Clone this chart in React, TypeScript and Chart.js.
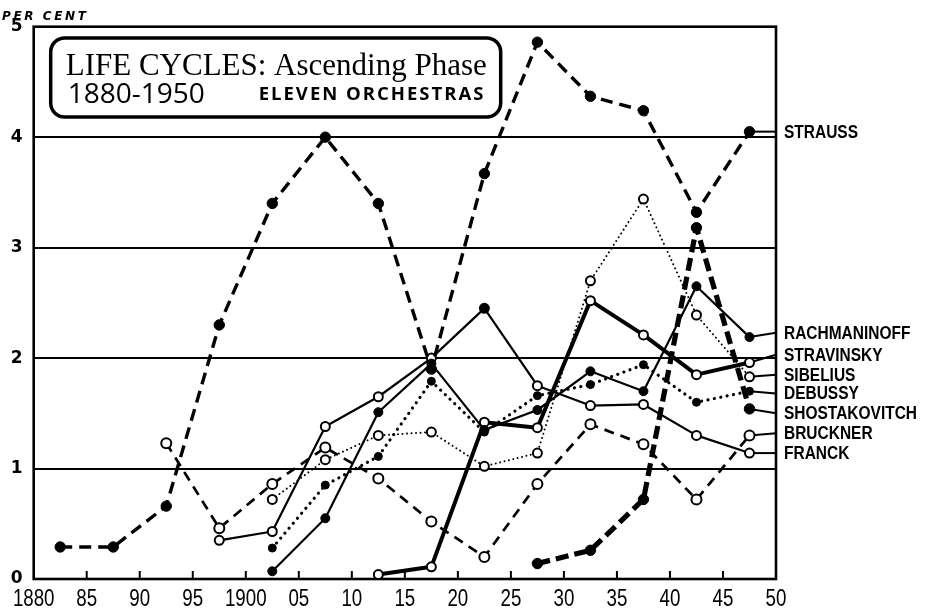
import React, { useEffect, useRef } from "react";
import { Chart, registerables } from "chart.js";

Chart.register(...registerables);

// ---- data -------------------------------------------------------------
const years = [1882.5, 1887.5, 1892.5, 1897.5, 1902.5, 1907.5, 1912.5, 1917.5, 1922.5, 1927.5, 1932.5, 1937.5, 1942.5, 1947.5];

const strauss = [0.29, 0.29, 0.66, 2.3, 3.4, 4.0, 3.4, 1.9, 3.67, 4.86, 4.37, 4.24, 3.32, 4.05];
const rachmaninoff = [null, null, null, null, 0.07, 0.55, 1.51, 1.95, 1.35, 1.53, 1.88, 1.7, 2.65, 2.19];
const stravinsky = [null, null, null, null, null, null, 0.04, 0.11, 1.42, 1.37, 2.52, 2.21, 1.85, 1.96];
const sibelius = [null, null, null, null, 0.72, 1.08, 1.3, 1.33, 1.02, 1.14, 2.7, 3.44, 2.39, 1.83];
const debussy = [null, null, null, null, 0.28, 0.85, 1.11, 1.79, 1.33, 1.66, 1.76, 1.94, 1.6, 1.7];
const shostakovitch = [null, null, null, null, null, null, null, null, null, 0.14, 0.26, 0.72, 3.18, 1.54];
const bruckner = [null, null, 1.23, 0.46, 0.86, 1.19, 0.91, 0.52, 0.2, 0.86, 1.4, 1.22, 0.72, 1.3];
const franck = [null, null, null, 0.35, 0.43, 1.38, 1.65, 2.0, 2.45, 1.75, 1.57, 1.58, 1.3, 1.14];

const composers = ["STRAUSS", "RACHMANINOFF", "STRAVINSKY", "SIBELIUS", "DEBUSSY", "SHOSTAKOVITCH", "BRUCKNER", "FRANCK"];
const seriesValues = [strauss, rachmaninoff, stravinsky, sibelius, debussy, shostakovitch, bruckner, franck];

const xTickLabels = ["1880", "85", "90", "95", "1900", "05", "10", "15", "20", "25", "30", "35", "40", "45", "50"];
const yTickLabels = ["0", "1", "2", "3", "4", "5"];

const titleMain = "LIFE CYCLES: Ascending Phase";
const titleYears = "1880-1950";
const titleSub = "ELEVEN ORCHESTRAS";
const yAxisTitle = "PER CENT";

// ---- layout / style (not data) ------------------------------------------
// per-cent level at which each composer's name label sits on the right
const labelLevels = [4.05, 2.23, 2.03, 1.85, 1.68, 1.5, 1.32, 1.14];

type Style = { width: number; dash: number[]; cap: "butt" | "round"; radius: number; filled: boolean; pbw: number };
const styles: Style[] = [
  { width: 3.4, dash: [12, 7], cap: "butt", radius: 5.2, filled: true, pbw: 1 },     // Strauss
  { width: 2.2, dash: [], cap: "butt", radius: 4.5, filled: true, pbw: 1 },          // Rachmaninoff
  { width: 4, dash: [], cap: "butt", radius: 4.5, filled: false, pbw: 2 },           // Stravinsky
  { width: 2, dash: [0.01, 4.5], cap: "round", radius: 4.5, filled: false, pbw: 2 }, // Sibelius
  { width: 3.2, dash: [0.01, 6.5], cap: "round", radius: 4, filled: true, pbw: 1 },  // Debussy
  { width: 5.2, dash: [13, 6], cap: "butt", radius: 5.2, filled: true, pbw: 1 },     // Shostakovitch
  { width: 2.7, dash: [10, 7], cap: "butt", radius: 5, filled: false, pbw: 2 },      // Bruckner
  { width: 2.2, dash: [], cap: "butt", radius: 4.5, filled: false, pbw: 2 },         // Franck
];

const SANS = "'Liberation Sans', Arial, sans-serif";

function condensedText(ctx: CanvasRenderingContext2D, text: string, x: number, y: number, sx: number) {
  ctx.save();
  ctx.translate(x, y);
  ctx.scale(sx, 1);
  ctx.fillText(text, 0, 0);
  ctx.restore();
}

const decor = {
  id: "decor",
  beforeDatasetsDraw(chart: any) {
    const { ctx, chartArea: a, scales } = chart;
    const x = scales.x;
    const y = scales.y;
    ctx.save();
    ctx.strokeStyle = "#000";
    ctx.setLineDash([]);
    // inner ticks on bottom axis
    ctx.lineWidth = 2;
    for (let v = 1885; v < 1950; v += 5) {
      const px = x.getPixelForValue(v);
      ctx.beginPath();
      ctx.moveTo(px, a.bottom);
      ctx.lineTo(px, a.bottom - 8);
      ctx.stroke();
    }
    // frame
    ctx.lineWidth = 2.6;
    ctx.strokeRect(a.left, a.top, a.right - a.left, a.bottom - a.top);
    // x tick labels (narrow face)
    ctx.fillStyle = "#000";
    ctx.font = `24px ${SANS}`;
    ctx.textAlign = "center";
    ctx.textBaseline = "alphabetic";
    x.ticks.forEach((t: any, i: number) => {
      condensedText(ctx, xTickLabels[i], x.getPixelForValue(t.value), a.bottom + 27, 0.78);
    });
    // leaders + labels
    chart.data.datasets.forEach((ds: any, i: number) => {
      const meta = chart.getDatasetMeta(i);
      const last = meta.data[meta.data.length - 1];
      const ly = y.getPixelForValue(labelLevels[i]);
      ctx.lineWidth = 2;
      ctx.beginPath();
      ctx.moveTo(last.x, last.y);
      ctx.lineTo(a.right, ly);
      ctx.stroke();
      ctx.font = `bold 18px ${SANS}`;
      ctx.textAlign = "left";
      ctx.textBaseline = "middle";
      condensedText(ctx, composers[i], a.right + 8, ly + 1, 0.86);
    });
    ctx.restore();
  },
  afterDraw(chart: any) {
    const { ctx, chartArea: a } = chart;
    ctx.save();
    // "PER CENT"
    ctx.fillStyle = "#000";
    ctx.font = "bold italic 12px 'DejaVu Sans', sans-serif";
    (ctx as any).letterSpacing = "2.6px";
    ctx.textAlign = "left";
    ctx.textBaseline = "alphabetic";
    ctx.fillText(yAxisTitle, 2, 20);
    (ctx as any).letterSpacing = "0px";
    // title box
    const bx = a.left + 17, by = 38, bw = 450, bh = 79;
    ctx.fillStyle = "#fff";
    ctx.strokeStyle = "#000";
    ctx.lineWidth = 3.5;
    ctx.beginPath();
    (ctx as any).roundRect(bx, by, bw, bh, 14);
    ctx.fill();
    ctx.stroke();
    ctx.fillStyle = "#000";
    ctx.font = "31px 'Liberation Serif', serif";
    ctx.fillText(titleMain, bx + 15, by + 37);
    ctx.font = "28px 'Open Sans', sans-serif";
    ctx.fillText(titleYears, bx + 17, by + 65);
    ctx.font = "bold 18.5px 'Open Sans', sans-serif";
    (ctx as any).letterSpacing = "2px";
    ctx.fillText(titleSub, bx + 208, by + 62);
    (ctx as any).letterSpacing = "0px";
    ctx.restore();
  },
};

export default function App() {
  const ref = useRef<HTMLCanvasElement>(null);
  useEffect(() => {
    const datasets = seriesValues.map((vals, i) => {
      const s = styles[i];
      const pointBg = vals.map((v, j) => {
        // the Franck 1922.5 marker is printed solid in the original
        if (i === 7 && j === 8) return "#000";
        return s.filled ? "#000" : "#fff";
      });
      return {
        label: composers[i],
        data: years.map((yr, j) => ({ x: yr, y: vals[j] })).filter((p) => p.y !== null),
        borderColor: "#000",
        borderWidth: s.width,
        borderDash: s.dash,
        borderCapStyle: s.cap,
        borderJoinStyle: "round",
        tension: 0,
        fill: false,
        pointRadius: s.radius,
        pointBorderWidth: s.pbw,
        pointBorderColor: "#000",
        pointBackgroundColor: pointBg.filter((_, j) => vals[j] !== null),
      };
    });
    const chart = new Chart(ref.current as HTMLCanvasElement, {
      type: "line",
      data: { datasets } as any,
      options: {
        animation: false,
        responsive: false,
        maintainAspectRatio: false,
        layout: { padding: { top: 26.7, right: 153, bottom: 0, left: 0 } },
        plugins: { legend: { display: false }, tooltip: { enabled: false }, title: { display: false } },
        scales: {
          x: {
            type: "linear",
            min: 1880,
            max: 1950,
            afterFit: (s: any) => { s.height = 33; },
            afterBuildTicks: (s: any) => {
              s.ticks = xTickLabels.map((_, i) => ({ value: 1880 + i * 5 }));
            },
            ticks: { display: false },
            grid: { display: false, drawTicks: false },
            border: { display: false },
          },
          y: {
            type: "linear",
            min: 0,
            max: 5,
            afterFit: (s: any) => { s.width = 33.7; },
            afterBuildTicks: (s: any) => {
              s.ticks = yTickLabels.map((_, i) => ({ value: i }));
            },
            ticks: {
              padding: 11,
              color: "#000",
              font: { family: "'DejaVu Sans', sans-serif", size: 17, weight: "bold" },
              callback: (_v: any, i: number) => yTickLabels[i],
            },
            grid: { color: "#000", lineWidth: 2, drawTicks: false },
            border: { display: false },
          },
        },
      },
      plugins: [decor],
    } as any);
    return () => chart.destroy();
  }, []);
  return (
    <div style={{ position: "absolute", left: 0, top: 0, width: 929, height: 612, background: "#fff" }}>
      <canvas ref={ref} width={929} height={612} style={{ display: "block" }} />
    </div>
  );
}
